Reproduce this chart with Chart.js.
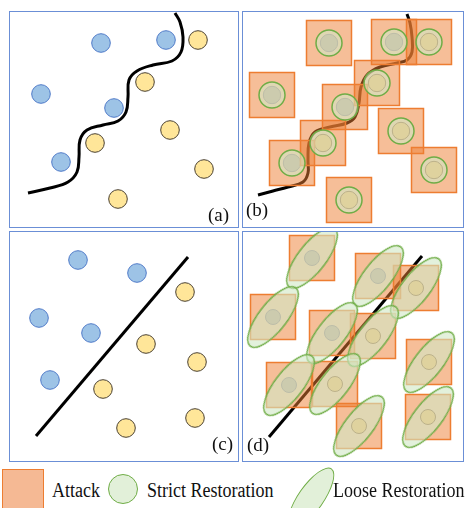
<!DOCTYPE html>
<html>
<head>
<meta charset="utf-8">
<script src="https://cdn.jsdelivr.net/npm/chart.js@4.4.1/dist/chart.umd.min.js"></script>
<style>
  html, body { margin: 0; padding: 0; background: #fff; }
  body { position: relative; width: 468px; height: 508px; overflow: hidden; font-family: 'Liberation Serif', 'Times New Roman', serif; color: #111; }
  canvas, .frame, .tag, .key, .ltxt { position: absolute; }
  .frame { box-sizing: border-box; border: 1.5px solid #6b8fd6; }
  .tag { font-size: 19px; line-height: 19px; white-space: nowrap; }
  .ltxt { font-size: 20px; line-height: 20px; white-space: nowrap; transform: scaleX(0.9); transform-origin: left center; }
  .key { box-sizing: border-box; }
</style>
</head>
<body>
<canvas id="pa" width="228" height="215" style="left:10px;top:12px"></canvas>
<canvas id="pb" width="220" height="215" style="left:243px;top:12px"></canvas>
<canvas id="pc" width="228" height="229" style="left:10px;top:232px"></canvas>
<canvas id="pd" width="220" height="229" style="left:243px;top:232px"></canvas>
<div class="frame" style="left:9px;top:11px;width:230px;height:217px"></div>
<div class="frame" style="left:242px;top:11px;width:222px;height:217px"></div>
<div class="frame" style="left:9px;top:231px;width:230px;height:231px"></div>
<div class="frame" style="left:242px;top:231px;width:222px;height:231px"></div>
<span class="tag" style="left:208px;top:205px">(a)</span>
<span class="tag" style="left:246px;top:200px">(b)</span>
<span class="tag" style="left:212px;top:434px">(c)</span>
<span class="tag" style="left:247px;top:435px">(d)</span>

<div class="key" style="left:2px;top:469px;width:42px;height:42px;background:#f5b994;border:1.5px solid #ed7d31"></div>
<span class="ltxt" style="left:52px;top:480px">Attack</span>
<div class="key" style="left:108px;top:474px;width:30px;height:30px;border-radius:50%;background:#e2f0d9;border:1.5px solid #70ad47"></div>
<span class="ltxt" style="left:147px;top:480px">Strict Restoration</span>
<div class="key" style="left:275px;top:485px;width:72px;height:26px;border-radius:50%;background:#e2f0d9;border:1.5px solid #70ad47;transform:rotate(-55deg)"></div>
<span class="ltxt" style="left:333px;top:480px">Loose Restoration</span>

<script>
// panel coordinates: x to the right, y downwards, in panel pixels
const A_BLUE   = [[91, 31], [156, 28], [31, 82], [104, 96], [51, 150]];
const A_YELLOW = [[188, 28], [135, 70], [160, 118], [85, 131], [194, 157], [108, 187]];
const A_CURVE  = [[18, 181], [40, 176], [58, 170], [67, 160], [69, 145], [70, 128], [77, 118], [93, 113],
                  [108, 109], [116, 100], [118, 85], [119, 68], [127, 59], [143, 53], [162, 49], [171, 40],
                  [173, 25], [170, 10], [165, 1]];

const B_BLUE   = [[86, 31], [151, 30], [29, 83], [102, 95], [49, 151]];
const B_YELLOW = [[186, 30], [134, 71], [158, 119], [80, 131], [191, 158], [106, 188]];
const B_CURVE  = [[15, 183], [30, 179], [45, 175], [60, 170], [65, 161], [65, 148], [66, 131], [72, 120],
                  [87, 115], [104, 111], [112, 105], [116, 91], [118, 75], [124, 63], [137, 55], [154, 51],
                  [164, 48], [169, 40], [169, 25], [167, 11], [164, 2]];

const C_BLUE   = [[68, 28], [127, 41], [29, 86], [81, 101], [40, 148]];
const C_YELLOW = [[175, 60], [136, 112], [187, 130], [93, 157], [185, 186], [116, 196]];
const C_LINE   = [[26, 204], [178, 25]];

const D_BLUE   = [[69, 26], [135, 44], [30, 85], [89, 101], [46, 153]];
const D_YELLOW = [[173, 56], [130, 104], [186, 130], [92, 152], [116, 194], [185, 185]];
const D_LINE   = [[26, 205], [179, 24]];

const COLORS = {
  blue:      '#9dc3e6',
  blueEdge:  '#4f7ac8',
  yellow:    '#ffe699',
  yellowEdge:'#4a4030',
  attack:    'rgba(237,125,49,0.5)',
  attackEdge:'#ed7d31',
  restore:   'rgba(208,232,196,0.6)',
  restoreEdge:'#70ad47',
};

const pts = arr => arr.map(([x, y]) => ({ x, y }));

function curveSet(arr, tension) {
  return {
    data: pts(arr), showLine: true, tension, borderColor: '#000', borderWidth: 3,
    borderCapStyle: 'butt', pointRadius: 0, fill: false, clip: false, order: 10,
  };
}

function dotSet(arr, fill, edge, r, order) {
  return {
    data: pts(arr), pointRadius: r, pointBackgroundColor: fill, pointBorderColor: edge,
    pointBorderWidth: 1, clip: false, order,
  };
}

function attackSet(arr) {
  return {
    data: pts(arr), pointStyle: 'rect', pointRadius: 45 / Math.SQRT2,
    pointBackgroundColor: COLORS.attack, pointBorderColor: COLORS.attackEdge,
    pointBorderWidth: 1.5, clip: false, order: 3,
  };
}

function ellipseSprite(a, b) {
  const c = document.createElement('canvas');
  c.width = 2 * a + 4;
  c.height = 2 * b + 4;
  const g = c.getContext('2d');
  g.beginPath();
  g.ellipse(c.width / 2, c.height / 2, a, b, 0, 0, Math.PI * 2);
  g.fillStyle = COLORS.restore;
  g.fill();
  g.lineWidth = 1.5;
  g.strokeStyle = COLORS.restoreEdge;
  g.stroke();
  return c;
}

function makePanel(id, w, h, datasets) {
  return new Chart(document.getElementById(id), {
    type: 'scatter',
    data: { datasets },
    options: {
      responsive: false,
      animation: false,
      devicePixelRatio: 1,
      events: [],
      layout: { padding: 0, autoPadding: false },
      plugins: { legend: { display: false }, tooltip: { enabled: false } },
      scales: {
        x: { display: false, min: 0, max: w },
        y: { display: false, min: 0, max: h, reverse: true },
      },
    },
  });
}

makePanel('pa', 228, 215, [
  curveSet(A_CURVE, 0.4),
  dotSet(A_BLUE, COLORS.blue, COLORS.blueEdge, 9.3, 8),
  dotSet(A_YELLOW, COLORS.yellow, COLORS.yellowEdge, 9.3, 7),
]);

makePanel('pb', 220, 215, [
  curveSet(B_CURVE, 0.4),
  dotSet(B_BLUE, COLORS.blue, COLORS.blueEdge, 8.7, 8),
  dotSet(B_YELLOW, COLORS.yellow, COLORS.yellowEdge, 8.7, 7),
  attackSet([...B_BLUE, ...B_YELLOW]),
  {
    data: pts([...B_BLUE, ...B_YELLOW]), pointRadius: 13,
    pointBackgroundColor: COLORS.restore, pointBorderColor: COLORS.restoreEdge,
    pointBorderWidth: 1.5, clip: false, order: 1,
  },
]);

makePanel('pc', 228, 229, [
  curveSet(C_LINE, 0),
  dotSet(C_BLUE, COLORS.blue, COLORS.blueEdge, 9.3, 8),
  dotSet(C_YELLOW, COLORS.yellow, COLORS.yellowEdge, 9.3, 7),
]);

makePanel('pd', 220, 229, [
  curveSet(D_LINE, 0),
  dotSet(D_BLUE, COLORS.blue, COLORS.blueEdge, 7.5, 8),
  dotSet(D_YELLOW, COLORS.yellow, COLORS.yellowEdge, 7.5, 7),
  attackSet([...D_BLUE, ...D_YELLOW]),
  {
    data: pts([...D_BLUE, ...D_YELLOW]), pointStyle: ellipseSprite(37, 14),
    pointRotation: -52, pointRadius: 37, clip: false, order: 1,
  },
]);
</script>
</body>
</html>
